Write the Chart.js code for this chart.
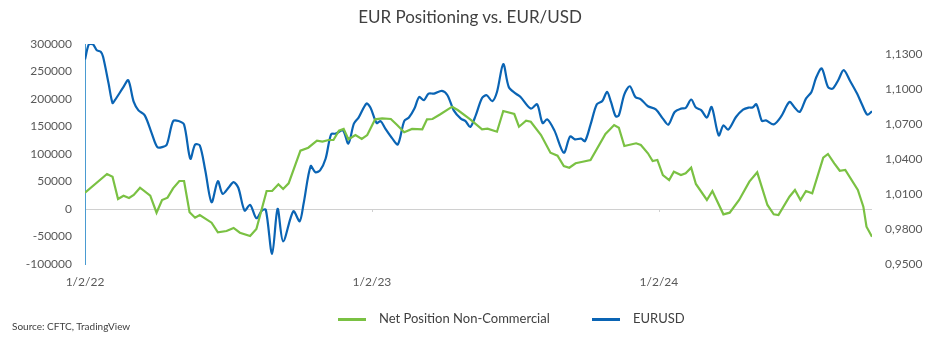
<!DOCTYPE html>
<html>
<head>
<meta charset="utf-8">
<script src="https://cdn.jsdelivr.net/npm/chart.js@4/dist/chart.umd.min.js"></script>
<style>
  body { margin: 0; background: #fff; font-family: Lato, sans-serif; }
  #wrap { position: relative; width: 940px; height: 354px; }
  #title { position: absolute; top: 6px; left: 0; width: 940px; text-align: center; font-size: 17px; color: #404040; }
  .leg { position: absolute; top: 310px; font-size: 13px; color: #404040; }
  .swatch { position: absolute; top: 318px; height: 2.5px; width: 28px; }
  #source { position: absolute; left: 12px; top: 320px; font-size: 10px; color: #404040; }
</style>
</head>
<body>
<div id="wrap">
  <canvas id="myChart" width="940" height="354"></canvas>
  <div id="title">EUR Positioning vs. EUR/USD</div>
  <div class="swatch" style="left:338px;background:#7ac143"></div>
  <div class="leg" style="left:379px">Net Position Non-Commercial</div>
  <div class="swatch" style="left:592px;background:#0a64b4"></div>
  <div class="leg" style="left:633px">EURUSD</div>
  <div id="source">Source: CFTC, TradingView</div>
</div>
<script>
// days counted from 1/2/22
const netDays = [0, 28, 35, 42, 49, 56, 62, 70, 83, 91, 98, 105, 112, 120, 126, 133, 140, 146, 161, 169, 180, 189, 197, 210, 218,
  231, 238, 246, 252, 259, 274, 284, 295, 302, 310, 316, 323, 329, 335, 344, 352, 359, 369, 378, 389, 397, 406, 416, 429, 435, 442,
  452, 467, 474, 490, 505, 512, 524, 532, 546, 552, 561, 567, 580, 592, 601, 609, 616, 624, 633, 643, 662, 673, 679, 686, 701, 707,
  716, 722, 728, 735, 743, 749, 758, 764, 771, 777, 791, 798, 812, 820, 832, 845, 855, 868, 876, 882, 896, 903, 910, 917, 925, 939,
  945, 953, 960, 967, 983, 990, 994, 1001];
const netValues = [29600, 63600, 58700, 18200, 24200, 20000, 25500, 38800, 24200, -6700, 16400, 20600, 37600, 50900, 50900, -6000,
  -15800, -10900, -24900, -42400, -40000, -34500, -43100, -49100, -36400,
  32700, 32700, 44900, 36400, 46700, 106000, 111500, 124200, 122400, 125500, 125500, 142400, 145500, 126700, 134500, 127300, 134500,
  163100, 164900, 163600, 152700, 139500, 145500, 144900, 163100, 163600,
  172200, 186000, 180000, 163100, 144900, 146000, 140500, 178200, 172700, 149600, 160500, 158700, 134500, 102400, 96900, 78200,
  75100, 83100, 86000, 89100, 136400, 152700, 147800, 114500, 119500, 116400,
  101300, 87300, 89100, 61800, 52700, 67800, 61800, 64900, 75100, 45500, 16400, 32700, -9700, -6700, 16400, 49700, 66700, 7300,
  -9700, -10900, 22400, 34500, 16400, 32700, 28500, 93300,
  100000, 83100, 69600, 70900, 34500, 4200, -32200, -50400];

const eurDays = [0, 5, 10, 15, 20, 23, 30, 35, 38, 49, 55, 62, 68, 76, 85, 92, 98, 104, 112, 119, 126, 134, 140, 146, 153, 161,
  169, 175, 183, 189, 195, 203, 210, 218, 225, 230, 238, 245, 252, 265, 273, 278, 287, 293, 299, 306, 313, 319, 328, 335, 342,
  348, 358, 363, 371, 376, 382, 391, 398, 406, 412, 419, 425, 431, 437, 444, 454, 461, 469, 478, 484, 490, 497, 505, 511, 518,
  524, 532, 539, 548, 554, 567, 575, 582, 588, 597, 609, 617, 623, 631, 636, 643, 651, 658, 664, 669, 675, 679, 686, 693, 700,
  707, 716, 726, 735, 742, 750, 758, 764, 771, 777, 784, 791, 797, 806, 812, 818, 828, 837, 844, 849, 854, 861, 866, 876, 885,
  896, 902, 909, 917, 924, 930, 937, 945, 951, 958, 965, 973, 982, 988, 995, 1001];
const eurValues = [1.1257, 1.1389, 1.1389, 1.1337, 1.1323, 1.1280, 1.1050, 1.0883, 1.0907, 1.1021, 1.1079, 1.0892, 1.0820,
  1.0777, 1.0620, 1.0504, 1.0504, 1.0525, 1.0726, 1.0728, 1.0697, 1.0404, 1.0525, 1.0519, 1.0304, 1.0031,
  1.0211, 1.0103, 1.0160, 1.0203, 1.0155, 0.9959, 1.0008, 0.9893, 0.9959, 0.9965, 0.9586, 0.9974, 0.9695, 0.9953, 0.9867,
  1.0017, 1.0341, 1.0289, 1.0304, 1.0404, 1.0614, 1.0620, 1.0648, 1.0534, 1.0706,
  1.0758, 1.0878, 1.0844, 1.0711, 1.0728, 1.0663, 1.0577, 1.0528, 1.0728, 1.0758, 1.0835, 1.0935, 1.0907, 1.0964, 1.0964,
  1.0987, 1.0950, 1.0820, 1.0749, 1.0728, 1.0677, 1.0777, 1.0926, 1.0950, 1.0898,
  1.0978, 1.1217, 1.1021, 1.0964, 1.0935, 1.0835, 1.0872, 1.0711, 1.0743, 1.0648, 1.0456, 1.0596, 1.0571, 1.0577, 1.0556,
  1.0697, 1.0872, 1.0900, 1.0978, 1.0892, 1.0769, 1.0777, 1.0958, 1.1027, 1.0935,
  1.0915, 1.0855, 1.0829, 1.0749, 1.0697, 1.0806, 1.0835, 1.0840, 1.0913, 1.0844, 1.0820, 1.0758, 1.0849, 1.0605, 1.0691,
  1.0654, 1.0763, 1.0826, 1.0844, 1.0844, 1.0872, 1.0728, 1.0734, 1.0700, 1.0763,
  1.0892, 1.0849, 1.0806, 1.0921, 1.0978, 1.1102, 1.1180, 1.1021, 1.1007, 1.1079, 1.1165, 1.1074, 1.0964, 1.0875, 1.0783, 1.0812];

const xTickDays = [0, 365, 730];
const xTickLabels = ['1/2/22', '1/2/23', '1/2/24'];
const rightTicks = [0.95, 0.98, 1.01, 1.04, 1.07, 1.10, 1.13];

const tickFont = { family: 'Lato', size: 12 };
const tickColor = '#595959';

// little tick marks on the zero line, like the excel category axis
const zeroTicks = {
  id: 'zeroTicks',
  afterDatasetsDraw(chart) {
    const ctx = chart.ctx;
    const x = chart.scales.x;
    const y0 = chart.scales.y.getPixelForValue(0);
    ctx.save();
    ctx.strokeStyle = '#d0d0d0';
    ctx.lineWidth = 1;
    xTickDays.slice(1).forEach(d => {
      const px = Math.round(x.getPixelForValue(d)) + 0.5;
      ctx.beginPath();
      ctx.moveTo(px, y0);
      ctx.lineTo(px, y0 + 3);
      ctx.stroke();
    });
    ctx.restore();
  }
};

const ctx = document.getElementById('myChart');
new Chart(ctx, {
  type: 'line',
  data: {
    datasets: [{
      label: 'Net Position Non-Commercial',
      data: netDays.map((d, i) => ({ x: d, y: netValues[i] })),
      borderColor: '#7ac143',
      borderWidth: 2.2,
      pointRadius: 0,
      tension: 0,
      yAxisID: 'y'
    }, {
      label: 'EURUSD',
      data: eurDays.map((d, i) => ({ x: d, y: eurValues[i] })),
      borderColor: '#0a64b4',
      borderWidth: 2.2,
      pointRadius: 0,
      tension: 0.3,
      yAxisID: 'y1'
    }]
  },
  plugins: [zeroTicks],
  options: {
    responsive: false,
    animation: false,
    layout: { padding: { top: 44, bottom: 60, left: 0, right: 0 } },
    plugins: {
      legend: { display: false },
      tooltip: { enabled: false }
    },
    scales: {
      x: {
        type: 'linear',
        min: 0,
        max: 1001,
        afterBuildTicks: s => { s.ticks = xTickDays.map(v => ({ value: v })); },
        afterFit: s => { s.height = 30; },
        grid: { display: false, drawTicks: false },
        border: { display: false },
        ticks: {
          padding: 11,
          maxRotation: 0,
          font: tickFont,
          color: tickColor,
          callback: v => xTickLabels[xTickDays.indexOf(v)]
        }
      },
      y: {
        position: 'left',
        min: -100000,
        max: 300000,
        afterFit: s => { s.width = 85; },
        ticks: {
          stepSize: 50000,
          padding: 13,
          font: tickFont,
          color: tickColor,
          callback: v => String(v)
        },
        grid: {
          drawTicks: false,
          color: c => c.tick && c.tick.value === 0 ? '#d0d0d0' : 'rgba(0,0,0,0)'
        },
        border: { display: true, color: '#4a9bd1', width: 1 }
      },
      y1: {
        position: 'right',
        min: 0.95,
        max: 1.139,
        afterBuildTicks: s => { s.ticks = rightTicks.map(v => ({ value: v })); },
        afterFit: s => { s.width = 68; },
        ticks: {
          padding: 13,
          font: tickFont,
          color: tickColor,
          callback: v => v.toFixed(4).replace('.', ',')
        },
        grid: { display: false, drawTicks: false },
        border: { display: false }
      }
    }
  }
});
</script>
</body>
</html>
